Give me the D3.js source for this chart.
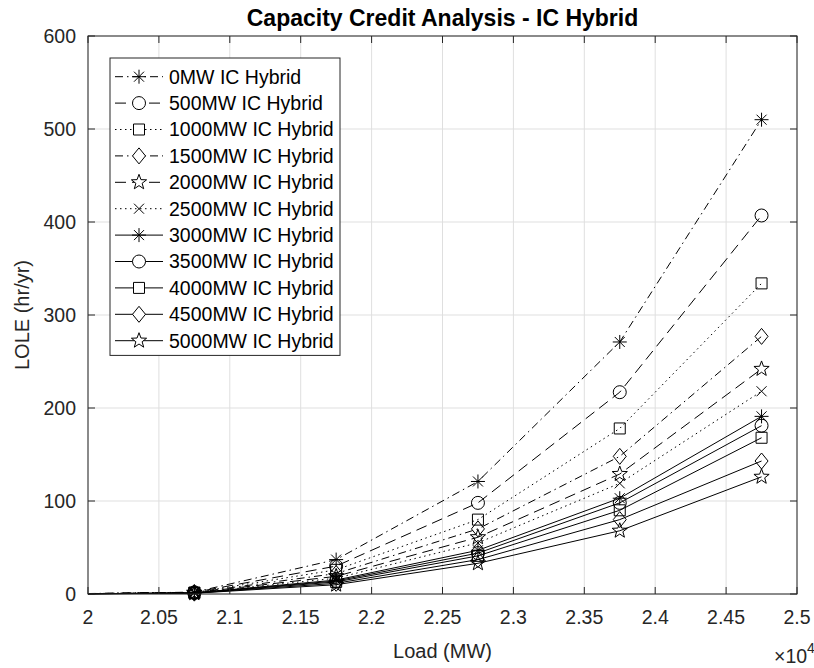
<!DOCTYPE html>
<html>
<head>
<meta charset="utf-8">
<script src="https://cdn.jsdelivr.net/npm/d3@7"></script>
<style>
  body { margin: 0; background: #fff; }
  text { font-family: "Liberation Sans", Arial, sans-serif; fill: #262626; }
</style>
</head>
<body>
<div id="chart"></div>
<script>
// Load points (MW); the first one sits left of the axis and is clipped
var loads = [19750, 20750, 21750, 22750, 23750, 24750];

var seriesNames = [
    '0MW IC Hybrid', '500MW IC Hybrid', '1000MW IC Hybrid', '1500MW IC Hybrid',
    '2000MW IC Hybrid', '2500MW IC Hybrid', '3000MW IC Hybrid', '3500MW IC Hybrid',
    '4000MW IC Hybrid', '4500MW IC Hybrid', '5000MW IC Hybrid'
];

// LOLE (hr/yr) per series
var lole0 = [0, 2.0, 37, 121, 271, 510];
var lole500 = [0, 1.8, 30, 98, 217, 407];
var lole1000 = [0, 1.6, 26, 80, 178, 334];
var lole1500 = [0, 1.5, 22, 70, 148, 277];
var lole2000 = [0, 1.4, 19, 61, 129, 242];
var lole2500 = [0, 1.3, 17, 55, 119, 218];
var lole3000 = [0, 1.2, 15, 47, 103, 191];
var lole3500 = [0, 1.1, 14, 44, 98, 181];
var lole4000 = [0, 1.0, 13, 41, 90, 168];
var lole4500 = [0, 0.9, 11.5, 37, 80, 143];
var lole5000 = [0, 0.8, 10, 33, 68, 126];

var seriesValues = [lole0, lole500, lole1000, lole1500, lole2000, lole2500,
    lole3000, lole3500, lole4000, lole4500, lole5000];

var lineStyles = ['dashdot', 'dash', 'dot', 'dashdot', 'dash', 'dot',
    'solid', 'solid', 'solid', 'solid', 'solid'];
var markers = ['asterisk', 'circle', 'square', 'diamond', 'star', 'x',
    'asterisk', 'circle', 'square', 'diamond', 'star'];

var xTicks = [20000, 20500, 21000, 21500, 22000, 22500, 23000, 23500, 24000, 24500, 25000];
var yTicks = [0, 100, 200, 300, 400, 500, 600];

var width = 814, height = 668;
var plot = { left: 88, right: 797, top: 36, bottom: 594 };
var axisColor = '#262626';
var gridColor = '#dfdfdf';
var fontSize = '19.5px';

var svg = d3.select('#chart').append('svg')
    .attr('width', width)
    .attr('height', height);

var x = d3.scaleLinear().domain([20000, 25000]).range([plot.left, plot.right]);
var y = d3.scaleLinear().domain([0, 600]).range([plot.bottom, plot.top]);

// Grid
var grid = svg.append('g');
xTicks.forEach(function(t) {
    grid.append('line')
        .attr('x1', x(t)).attr('x2', x(t))
        .attr('y1', plot.top).attr('y2', plot.bottom)
        .attr('stroke', gridColor).attr('stroke-width', 1);
});
yTicks.forEach(function(t) {
    grid.append('line')
        .attr('x1', plot.left).attr('x2', plot.right)
        .attr('y1', y(t)).attr('y2', y(t))
        .attr('stroke', gridColor).attr('stroke-width', 1);
});

svg.append('clipPath').attr('id', 'plot-clip')
    .append('rect')
    .attr('x', plot.left).attr('y', plot.top - 20)
    .attr('width', plot.right - plot.left)
    .attr('height', plot.bottom - plot.top + 40);

function dashFor(style) {
    if (style === 'dash') return '11,6';
    if (style === 'dot') return '1.5,3.5';
    if (style === 'dashdot') return '8,4,1.5,4';
    return null;
}

// Marker path centred at 0,0
function markerPath(type) {
    var p = d3.path();
    if (type === 'circle') {
        p.moveTo(6.5, 0);
        p.arc(0, 0, 6.5, 0, Math.PI * 2);
    } else if (type === 'square') {
        p.rect(-5.5, -5.5, 11, 11);
    } else if (type === 'diamond') {
        p.moveTo(0, -8); p.lineTo(6.5, 0); p.lineTo(0, 8); p.lineTo(-6.5, 0); p.closePath();
    } else if (type === 'x') {
        p.moveTo(-5, -5); p.lineTo(5, 5); p.moveTo(-5, 5); p.lineTo(5, -5);
    } else if (type === 'asterisk') {
        p.moveTo(0, -7); p.lineTo(0, 7);
        p.moveTo(-7, 0); p.lineTo(7, 0);
        p.moveTo(-5, -5); p.lineTo(5, 5);
        p.moveTo(-5, 5); p.lineTo(5, -5);
    } else if (type === 'star') {
        var outer = 8, inner = 3.3;
        for (var i = 0; i < 10; i++) {
            var r = i % 2 === 0 ? outer : inner;
            var a = -Math.PI / 2 + i * Math.PI / 5;
            if (i === 0) p.moveTo(r * Math.cos(a), r * Math.sin(a));
            else p.lineTo(r * Math.cos(a), r * Math.sin(a));
        }
        p.closePath();
    }
    return p.toString();
}

var line = d3.line()
    .x(function(d) { return x(d[0]); })
    .y(function(d) { return y(d[1]); });

var plotArea = svg.append('g').attr('clip-path', 'url(#plot-clip)');

seriesValues.forEach(function(vals, i) {
    var pts = loads.map(function(l, k) { return [l, vals[k]]; });
    plotArea.append('path')
        .datum(pts)
        .attr('d', line)
        .attr('fill', 'none')
        .attr('stroke', '#000')
        .attr('stroke-width', 1)
        .attr('stroke-dasharray', dashFor(lineStyles[i]));
    plotArea.selectAll(null)
        .data(pts.filter(function(d) { return d[0] >= 20000; }))
        .enter()
        .append('path')
        .attr('d', markerPath(markers[i]))
        .attr('transform', function(d) { return 'translate(' + x(d[0]) + ',' + y(d[1]) + ')'; })
        .attr('fill', 'none')
        .attr('stroke', '#000')
        .attr('stroke-width', 1);
});

// Axes box with inward ticks on all sides
var axes = svg.append('g');
axes.append('rect')
    .attr('x', plot.left).attr('y', plot.top)
    .attr('width', plot.right - plot.left).attr('height', plot.bottom - plot.top)
    .attr('fill', 'none').attr('stroke', axisColor).attr('stroke-width', 1);

var tickLen = 7;
xTicks.forEach(function(t) {
    axes.append('line').attr('x1', x(t)).attr('x2', x(t))
        .attr('y1', plot.bottom).attr('y2', plot.bottom - tickLen)
        .attr('stroke', axisColor);
    axes.append('line').attr('x1', x(t)).attr('x2', x(t))
        .attr('y1', plot.top).attr('y2', plot.top + tickLen)
        .attr('stroke', axisColor);
    axes.append('text')
        .attr('x', x(t)).attr('y', plot.bottom + 30)
        .attr('text-anchor', 'middle')
        .attr('font-size', fontSize)
        .text(d3.format('')(t / 10000));
});
yTicks.forEach(function(t) {
    axes.append('line').attr('x1', plot.left).attr('x2', plot.left + tickLen)
        .attr('y1', y(t)).attr('y2', y(t))
        .attr('stroke', axisColor);
    axes.append('line').attr('x1', plot.right).attr('x2', plot.right - tickLen)
        .attr('y1', y(t)).attr('y2', y(t))
        .attr('stroke', axisColor);
    axes.append('text')
        .attr('x', plot.left - 12).attr('y', y(t))
        .attr('dy', '0.35em')
        .attr('text-anchor', 'end')
        .attr('font-size', fontSize)
        .text(t);
});

// Titles and labels
svg.append('text')
    .attr('x', (plot.left + plot.right) / 2).attr('y', 26)
    .attr('text-anchor', 'middle')
    .attr('font-size', '23px')
    .attr('font-weight', 'bold')
    .style('fill', '#000')
    .text('Capacity Credit Analysis - IC Hybrid');

svg.append('text')
    .attr('x', (plot.left + plot.right) / 2).attr('y', 658)
    .attr('text-anchor', 'middle')
    .attr('font-size', '20px')
    .text('Load (MW)');

svg.append('text')
    .attr('transform', 'translate(29,' + ((plot.top + plot.bottom) / 2) + ') rotate(-90)')
    .attr('text-anchor', 'middle')
    .attr('font-size', '20px')
    .text('LOLE (hr/yr)');

var expo = svg.append('text')
    .attr('x', 774).attr('y', 663)
    .attr('font-size', fontSize);
expo.append('tspan').text('\u00d710');
expo.append('tspan').attr('dy', -10).attr('font-size', '14px').text('4');

// Legend
var legend = svg.append('g');
var legX = 110, legY = 58, rowH = 26.4;
legend.append('rect')
    .attr('x', legX).attr('y', legY)
    .attr('width', 230).attr('height', rowH * seriesNames.length + 7)
    .attr('fill', '#fff').attr('stroke', axisColor).attr('stroke-width', 1);

seriesNames.forEach(function(name, i) {
    var cy = legY + 18.7 + i * rowH;
    legend.append('line')
        .attr('x1', legX + 5).attr('x2', legX + 53)
        .attr('y1', cy).attr('y2', cy)
        .attr('stroke', '#000').attr('stroke-width', 1)
        .attr('stroke-dasharray', dashFor(lineStyles[i]));
    legend.append('path')
        .attr('d', markerPath(markers[i]))
        .attr('transform', 'translate(' + (legX + 29) + ',' + cy + ')')
        .attr('fill', '#fff')
        .attr('stroke', '#000').attr('stroke-width', 1);
    legend.append('text')
        .attr('x', legX + 59).attr('y', cy)
        .attr('dy', '0.35em')
        .attr('font-size', fontSize)
        .style('fill', '#000')
        .text(name);
});
</script>
</body>
</html>
